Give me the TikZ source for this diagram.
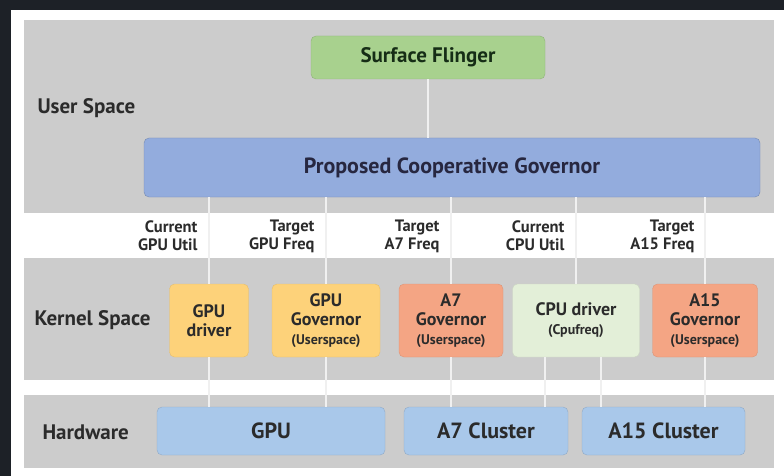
\documentclass[tikz,border=0pt]{standalone}
\usepackage{fontspec}
\setmainfont{PT Sans}
\usepackage{xcolor}
\definecolor{colorFrame}{HTML}{1D2127}
\definecolor{colorBand}{HTML}{CCCCCC}
\definecolor{colorLink}{HTML}{F0F0F0}
\definecolor{colorText}{HTML}{2B2B2B}
\definecolor{colorFlinger}{HTML}{A8D18E}
\definecolor{colorGovernor}{HTML}{93ACDD}
\definecolor{colorGpu}{HTML}{FDD27A}
\definecolor{colorCpuGov}{HTML}{F4A584}
\definecolor{colorCpuDrv}{HTML}{E3EFD8}
\definecolor{colorHw}{HTML}{A9C8EA}
\usetikzlibrary{positioning}

\begin{document}
\begin{tikzpicture}[x=1pt, y=-1pt, every node/.style={text=colorText},
  band/.style={fill=colorBand, draw=none},
  block/.style={rounded corners=5pt, align=center, inner sep=0pt, font=\bfseries\fontsize{18}{19}\selectfont},
  hwblock/.style={block, fill=colorHw, draw=colorHw!85!black, minimum height=48pt, font=\bfseries\fontsize{22}{24}\selectfont},
  kblock/.style={block, minimum height=73pt},
  layername/.style={anchor=west, font=\bfseries\fontsize{21}{24}\selectfont},
  signal/.style={anchor=east, align=right, font=\bfseries\fontsize{16.5}{18}\selectfont},
  link/.style={draw=colorLink, line width=2.5pt}]
\useasboundingbox (0,0) rectangle (784,476);
\fill[colorFrame] (0,0) rectangle (784,476);
\fill[white] (11,10) rectangle (784,476);
% layers
\fill[band] (24,20) rectangle (774,213);
\fill[band] (24,258) rectangle (774,380);
\fill[band] (24,395) rectangle (774,468);
\node[layername] (user) at (34,108) {User Space};
\node[layername] (kernel) at (31,320) {Kernel Space};
\node[layername] (hw) at (39,432) {Hardware};
% user space
\node[block, fill=colorFlinger, draw=colorFlinger!85!black, minimum width=234pt, minimum height=43pt, text=colorText!85!green!60!black, font=\bfseries\fontsize{21}{24}\selectfont] (flinger) at (428,57.5) {Surface Flinger};
\node[block, fill=colorGovernor, draw=colorGovernor!80!black, minimum width=616pt, minimum height=59pt, text=colorText!90!blue, font=\bfseries\fontsize{22}{25}\selectfont] (gov) at (452,167.5) {Proposed Cooperative Governor};
% kernel space
\node[kblock, fill=colorGpu, draw=colorGpu!90!black, minimum width=79pt] (gpudrv) at (209,320.5) {GPU\\driver};
\node[kblock, fill=colorGpu, draw=colorGpu!90!black, minimum width=108pt] (gpugov) at (326,320.5) {GPU\\Governor\\{\fontsize{14}{17}\selectfont(Userspace)}};
\node[kblock, fill=colorCpuGov, draw=colorCpuGov!90!black, minimum width=104pt] (a7gov) at (451,320.5) {A7\\Governor\\{\fontsize{14}{17}\selectfont(Userspace)}};
\node[kblock, fill=colorCpuDrv, draw=colorCpuDrv!90!black, minimum width=127pt] (cpudrv) at (576,320.5) {CPU driver\\{\fontsize{14}{17}\selectfont(Cpufreq)}};
\node[kblock, fill=colorCpuGov, draw=colorCpuGov!90!black, minimum width=105pt] (a15gov) at (705,320.5) {A15\\Governor\\{\fontsize{14}{17}\selectfont(Userspace)}};
% hardware
\node[hwblock, minimum width=228pt] (gpu) at (271,431) {GPU};
\node[hwblock, minimum width=164pt] (a7c) at (486,431) {A7 Cluster};
\node[hwblock, minimum width=163pt] (a15c) at (663.5,431) {A15 Cluster};
% links
\draw[link] (flinger.south) -- (flinger.south |- gov.north);
\draw[link] (gpudrv.north |- gov.south) -- (gpudrv.north);
\draw[link] (gpugov.north |- gov.south) -- (gpugov.north);
\draw[link] (a7gov.north |- gov.south) -- (a7gov.north);
\draw[link] (cpudrv.north |- gov.south) -- (cpudrv.north);
\draw[link] (a15gov.north |- gov.south) -- (a15gov.north);
\draw[link] (gpudrv.south) -- (gpudrv.south |- gpu.north);
\draw[link] (gpugov.south) -- (gpugov.south |- gpu.north);
\draw[link] (a7gov.south) -- (a7gov.south |- a7c.north);
\draw[link] ([xshift=-31pt]cpudrv.south) -- ([xshift=-31pt]cpudrv.south |- a7c.north);
\draw[link] ([xshift=25pt]cpudrv.south) -- ([xshift=25pt]cpudrv.south |- a15c.north);
\draw[link] (a15gov.south) -- (a15gov.south |- a15c.north);
% signal labels
\node[signal] (gpuutil) at (201,236) {Current\\GPU Util};
\node[signal] (gpufreq) at (318,236) {Target\\GPU Freq};
\node[signal] (a7freq) at (443,236) {Target\\A7 Freq};
\node[signal] (cpuutil) at (568,236) {Current\\CPU Util};
\node[signal] (a15freq) at (698,236) {Target\\A15 Freq};
\end{tikzpicture}
\end{document}
